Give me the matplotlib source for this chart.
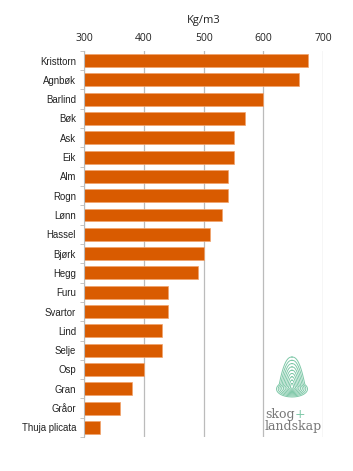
import matplotlib
matplotlib.use("Agg")
import matplotlib.pyplot as plt
import numpy as np

species = ["Kristtorn", "Agnbøk", "Barlind", "Bøk", "Ask", "Eik", "Alm", "Rogn",
           "Lønn", "Hassel", "Bjørk", "Hegg", "Furu", "Svartor", "Lind", "Selje",
           "Osp", "Gran", "Gråor", "Thuja plicata"]
density = [675, 660, 600, 570, 550, 550, 540, 540, 530, 510, 500, 490, 440, 440,
           430, 430, 400, 380, 360, 327]
xticks = [300, 400, 500, 600, 700]

plt.rcParams['font.family'] = ['Liberation Sans', 'DejaVu Sans']

fig = plt.figure(figsize=(3.53, 4.71), dpi=100)
ax = fig.add_axes([0.239, 0.072, 0.676, 0.820])

y = np.arange(len(species))
ax.barh(y, [d - 300 for d in density], left=300, height=0.67,
        color="#D95B00", edgecolor="#F2A36B", linewidth=0.5, zorder=3)
ax.set_ylim(len(species) - 0.5, -0.5)
ax.set_xlim(300, 700)
ax.set_yticks(y)
ax.set_yticklabels(species, fontsize=6.9, color="#222222")
ax.set_xticks(xticks)
ax.set_xticklabels([str(t) for t in xticks], fontsize=7.5, color="#222222",
                   family=['Open Sans', 'DejaVu Sans'])
ax.xaxis.tick_top()
ax.xaxis.set_label_position("top")
ax.set_xlabel("Kg/m3", fontsize=8, color="#222222", labelpad=7,
              family=['Open Sans', 'DejaVu Sans'])
ax.grid(axis="x", color="#BBBBBB", linewidth=0.9, zorder=0)
for s in ["top", "right", "bottom"]:
    ax.spines[s].set_visible(False)
ax.spines["left"].set_color("#BBBBBB")
ax.spines["left"].set_zorder(4)
ax.tick_params(axis="y", which="major", length=0, pad=6)
ax.tick_params(axis="x", length=0, pad=5)
ax.set_yticks(np.arange(len(species) + 1) - 0.5, minor=True)
ax.tick_params(axis="y", which="minor", length=3, color="#BBBBBB")

# logo (pixel-like coordinates, y downward)
lax = fig.add_axes([260 / 353, 1 - 440 / 471, 70 / 353, 90 / 471])
lax.set_xlim(260, 330)
lax.set_ylim(440, 350)
lax.axis("off")
green = "#7FC8A8"
u = np.linspace(0, 1, 300)
h1 = np.where(u < 0.8, 12.5 * (u / 0.65) ** 0.42, 0)
h2 = 15.5 * np.sqrt(np.clip(1 - ((u - 0.8) / 0.2) ** 2, 0, None))
h = np.maximum(h1, h2)
xs = np.concatenate([h, -h[::-1]])
ys = np.concatenate([u, u[::-1]]) * 40
cx, cy = 292, 357
oy = 30
for k in range(9):
    s = 1 - k * 0.11
    lax.plot(cx + xs * s, cy + oy + (ys - oy) * s, color=green, lw=0.7)
txt = lax.text(265, 418, "skog", fontsize=9, color="#777777",
               family="DejaVu Serif", va="baseline")
lax.annotate("+", xy=(1, 0), xycoords=txt, fontsize=9, color=green,
             family="DejaVu Sans", va="bottom", ha="left")
lax.text(265, 430, "landskap", fontsize=9, color="#777777",
         family="DejaVu Serif", va="baseline")

fig.savefig("out.png", dpi=100)
